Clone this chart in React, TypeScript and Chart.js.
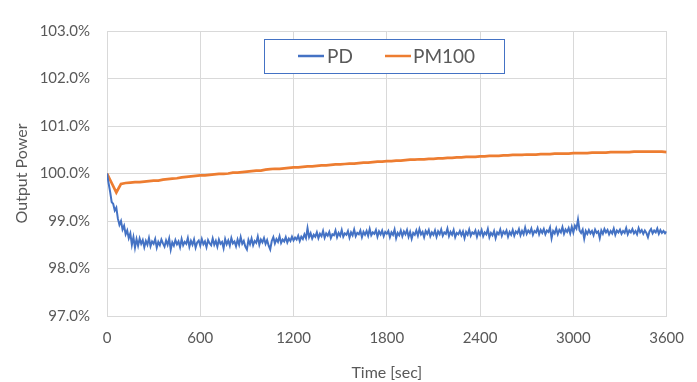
import React, { useEffect, useRef } from "react";
import { Chart, registerables } from "chart.js";

Chart.register(...registerables);

// Time grid (seconds)
const pdStep = 10;
const pmStep = 30;

// PD output power (%), read every 10 s
const pdValues = [
  100.0, 99.8, 99.62, 99.4, 99.36, 99.22, 99.28, 99.05, 98.92, 99.0,
  98.82, 98.9, 98.72, 98.8, 98.64, 98.74, 98.5, 98.66, 98.44, 98.62,
  98.48, 98.63, 98.52, 98.6, 98.45, 98.58, 98.5, 98.64, 98.47, 98.57,
  98.52, 98.62, 98.44, 98.56, 98.49, 98.61, 98.53, 98.46, 98.59, 98.5,
  98.63, 98.4, 98.55, 98.48, 98.6, 98.51, 98.57, 98.45, 98.62, 98.49,
  98.56, 98.52, 98.64, 98.46, 98.58, 98.5, 98.61, 98.44, 98.55, 98.59,
  98.48, 98.62, 98.51, 98.57, 98.45, 98.6, 98.53, 98.49, 98.63, 98.5,
  98.58, 98.46, 98.61, 98.52, 98.56, 98.43, 98.62, 98.51, 98.59, 98.48,
  98.64, 98.53, 98.57, 98.47, 98.61, 98.5, 98.66, 98.52, 98.58, 98.46,
  98.4, 98.6, 98.51, 98.63, 98.49, 98.58, 98.54, 98.67, 98.5, 98.61,
  98.55, 98.64, 98.52, 98.6, 98.48, 98.4, 98.58, 98.66, 98.53, 98.62,
  98.56, 98.68, 98.54, 98.61, 98.57, 98.66, 98.55, 98.63, 98.58, 98.67,
  98.59, 98.65, 98.61, 98.69, 98.58, 98.67, 98.62, 98.72, 98.64, 98.85,
  98.66, 98.74, 98.63, 98.71, 98.67, 98.76, 98.64, 98.73, 98.68, 98.79,
  98.65, 98.74, 98.69, 98.77, 98.64, 98.72, 98.7, 98.8, 98.66, 98.75,
  98.69, 98.81, 98.67, 98.74, 98.71, 98.79, 98.65, 98.76, 98.7, 98.82,
  98.68, 98.75, 98.72, 98.8, 98.66, 98.77, 98.71, 98.79, 98.69, 98.83,
  98.7, 98.76, 98.73, 98.81, 98.67, 98.78, 98.72, 98.8, 98.68, 98.77,
  98.73, 98.79, 98.66, 98.76, 98.71, 98.82, 98.64, 98.75, 98.7, 98.8,
  98.68, 98.78, 98.72, 98.81, 98.67, 98.77, 98.63, 98.75, 98.71, 98.8,
  98.69, 98.83, 98.72, 98.77, 98.66, 98.79, 98.73, 98.81, 98.68, 98.76,
  98.71, 98.8, 98.67, 98.78, 98.72, 98.82, 98.69, 98.76, 98.73, 98.84,
  98.68, 98.77, 98.71, 98.81, 98.66, 98.75, 98.72, 98.79, 98.7, 98.78,
  98.64, 98.77, 98.71, 98.82, 98.69, 98.76, 98.73, 98.8, 98.67, 98.78,
  98.71, 98.81, 98.68, 98.76, 98.72, 98.83, 98.66, 98.75, 98.7, 98.79,
  98.64, 98.76, 98.72, 98.82, 98.69, 98.78, 98.73, 98.8, 98.67, 98.77,
  98.71, 98.81, 98.69, 98.78, 98.74, 98.83, 98.7, 98.79, 98.72, 98.86,
  98.73, 98.8, 98.75, 98.84, 98.71, 98.79, 98.76, 98.85, 98.72, 98.81,
  98.75, 98.83, 98.72, 98.8, 98.77, 98.86, 98.64, 98.79, 98.74, 98.84,
  98.72, 98.81, 98.76, 98.87, 98.73, 98.82, 98.77, 98.85, 98.74, 98.88,
  98.76, 98.9, 98.84, 99.03, 98.8, 98.75, 98.82, 98.63, 98.79, 98.73,
  98.81, 98.74, 98.79, 98.7, 98.82, 98.75, 98.78, 98.64, 98.8, 98.73,
  98.83, 98.76, 98.81, 98.72, 98.79, 98.74, 98.84, 98.71, 98.8, 98.76,
  98.82, 98.73, 98.79, 98.75, 98.85, 98.72, 98.8, 98.76, 98.83, 98.74,
  98.79, 98.72, 98.85, 98.76, 98.81, 98.73, 98.8, 98.75, 98.66, 98.78,
  98.83, 98.74, 98.8, 98.76, 98.84, 98.73, 98.81, 98.75, 98.79, 98.74,
  98.78,
];

// PM100 output power (%), read every 30 s
const pmValues = [
  100.0, 99.8, 99.6, 99.78, 99.8, 99.81, 99.82, 99.82, 99.83, 99.84,
  99.85, 99.85, 99.87, 99.88, 99.89, 99.9, 99.92, 99.93, 99.94, 99.95,
  99.96, 99.96, 99.97, 99.98, 99.99, 99.99, 100.0, 100.02, 100.02, 100.03,
  100.04, 100.05, 100.06, 100.06, 100.08, 100.09, 100.1, 100.1, 100.11, 100.12,
  100.13, 100.13, 100.14, 100.15, 100.15, 100.16, 100.17, 100.17, 100.18, 100.19,
  100.19, 100.2, 100.21, 100.21, 100.22, 100.23, 100.23, 100.24, 100.25, 100.25,
  100.26, 100.26, 100.27, 100.27, 100.28, 100.29, 100.29, 100.3, 100.3, 100.31,
  100.31, 100.32, 100.32, 100.33, 100.33, 100.34, 100.34, 100.35, 100.35, 100.35,
  100.36, 100.36, 100.37, 100.37, 100.37, 100.38, 100.38, 100.39, 100.39, 100.39,
  100.4, 100.4, 100.4, 100.41, 100.41, 100.41, 100.42, 100.42, 100.42, 100.42,
  100.43, 100.43, 100.43, 100.43, 100.44, 100.44, 100.44, 100.44, 100.45, 100.45,
  100.45, 100.45, 100.45, 100.46, 100.46, 100.46, 100.46, 100.46, 100.46, 100.46,
  100.45,
];

const seriesNames = ["PD", "PM100"];
const seriesColors = ["#4472C4", "#ED7D31"];
const xTitle = "Time [sec]";
const yTitle = "Output Power";

const FONT = "Lato, 'Open Sans', sans-serif";
const TEXT = "#595959";
const GRID = "#D9D9D9";

const boxLegend = {
  id: "boxLegend",
  afterDraw(chart: any) {
    const ctx = chart.ctx;
    const x0 = 264.5, y0 = 39.5, w = 240, h = 34;
    ctx.save();
    ctx.fillStyle = "#ffffff";
    ctx.fillRect(x0, y0, w, h);
    ctx.strokeStyle = "#4472C4";
    ctx.lineWidth = 1;
    ctx.strokeRect(x0, y0, w, h);
    const cy = 56;
    const items = [
      { lx: 298, tx: 327 },
      { lx: 385, tx: 413 },
    ];
    ctx.font = `19px ${FONT}`;
    ctx.textBaseline = "middle";
    ctx.textAlign = "left";
    items.forEach((it, i) => {
      ctx.strokeStyle = seriesColors[i];
      ctx.lineWidth = 2.5;
      ctx.beginPath();
      ctx.moveTo(it.lx, cy);
      ctx.lineTo(it.lx + 26, cy);
      ctx.stroke();
      ctx.fillStyle = TEXT;
      ctx.fillText(seriesNames[i], it.tx, cy + 1);
    });
    ctx.restore();
  },
};

export default function App() {
  const ref = useRef<HTMLCanvasElement | null>(null);

  useEffect(() => {
    document.body.style.margin = "0";
    const canvas = ref.current;
    if (!canvas) return;
    const pdData = pdValues.map((v, i) => ({ x: i * pdStep, y: v }));
    const pmData = pmValues.map((v, i) => ({ x: i * pmStep, y: v }));
    const chart = new Chart(canvas, {
      type: "line",
      data: {
        datasets: [
          {
            label: seriesNames[0],
            data: pdData,
            borderColor: seriesColors[0],
            backgroundColor: seriesColors[0],
            borderWidth: 2,
            pointRadius: 0,
            tension: 0,
          },
          {
            label: seriesNames[1],
            data: pmData,
            borderColor: seriesColors[1],
            backgroundColor: seriesColors[1],
            borderWidth: 2.75,
            pointRadius: 0,
            tension: 0,
          },
        ],
      },
      options: {
        responsive: false,
        animation: false,
        layout: { padding: { left: 0, right: 28, top: 31, bottom: 0 } },
        plugins: {
          legend: { display: false },
          tooltip: { enabled: false },
        },
        scales: {
          x: {
            type: "linear",
            min: 0,
            max: 3600,
            afterFit: (s: any) => {
              s.height = 66;
            },
            ticks: {
              stepSize: 600,
              color: TEXT,
              font: { family: FONT, size: 15 },
              padding: 13,
              maxRotation: 0,
              callback: (v: any) => String(v),
            },
            grid: { color: GRID, drawTicks: false, lineWidth: 1 },
            border: { color: GRID },
            title: {
              display: true,
              text: xTitle,
              color: TEXT,
              font: { family: FONT, size: 16 },
              padding: { top: 6, bottom: 0 },
            },
          },
          y: {
            type: "linear",
            min: 97,
            max: 103,
            afterFit: (s: any) => {
              s.width = 107;
            },
            ticks: {
              stepSize: 1,
              color: TEXT,
              font: { family: FONT, size: 15 },
              padding: 17,
              callback: (v: any) => Number(v).toFixed(1) + "%",
            },
            grid: { color: GRID, drawTicks: false, lineWidth: 1 },
            border: { color: GRID },
            title: {
              display: true,
              text: yTitle,
              color: TEXT,
              font: { family: FONT, size: 16 },
              padding: { top: 12, bottom: 0 },
            },
          },
        },
      },
      plugins: [boxLegend],
    });
    return () => chart.destroy();
  }, []);

  return (
    <canvas
      ref={ref}
      width={697}
      height={382}
      style={{ display: "block", width: 697, height: 382 }}
    />
  );
}
